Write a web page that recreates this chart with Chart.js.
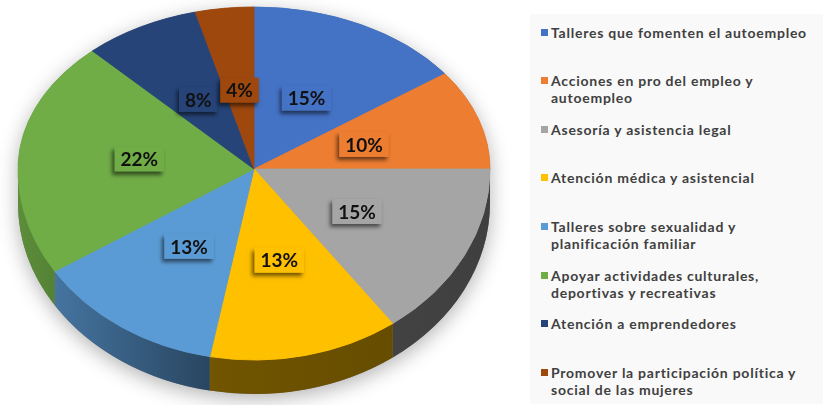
<!DOCTYPE html>
<html>
<head>
<meta charset="utf-8">
<script src="https://cdn.jsdelivr.net/npm/chart.js@4.4.0/dist/chart.umd.min.js"></script>
<style>
	html, body { margin: 0; padding: 0; background: #fff; overflow: hidden; }
	#wrap { position: relative; width: 823px; height: 405px; }
	#pieChart { position: absolute; left: 0; top: 0; }
	#legend {
		position: absolute; left: 530px; top: 14px; width: 293px; height: 390px;
		background: #f9f9f9;
		font-family: Lato, "Noto Sans", sans-serif; font-weight: 700;
		font-size: 14px; letter-spacing: 0.75px; color: #404040;
	}
	.item { position: absolute; left: 21px; line-height: 17px; white-space: nowrap; }
	.item .box { position: absolute; left: -10px; top: 5px; width: 7px; height: 7px; }
</style>
</head>
<body>
<div id="wrap">
	<canvas id="pieChart" width="823" height="405"></canvas>
	<div id="legend"></div>
</div>
<script>
// categories (legend lines) and percentages
const categories = [
	["Talleres que fomenten el autoempleo"],
	["Acciones en pro del empleo y", "autoempleo"],
	["Asesoría y asistencia legal"],
	["Atención médica y asistencial"],
	["Talleres sobre sexualidad y", "planificación familiar"],
	["Apoyar actividades culturales,", "deportivas y recreativas"],
	["Atención a emprendedores"],
	["Promover la participación política y", "social de las mujeres"],
];
const percentages = [15, 10, 15, 13, 13, 22, 8, 4];

const sliceColours = ["#4472c4", "#ed7d31", "#a5a5a5", "#ffc000", "#5b9bd5", "#70ad47", "#264478", "#9e480e"];

// look of the tilted pie
const RY_TOP = 162; // half height of the back part of the top face
const RY_BOT = 191; // half height of the front part
const DEPTH = 34;

function shade(hex, f) {
	const n = parseInt(hex.slice(1), 16);
	const r = Math.round(((n >> 16) & 255) * f);
	const g = Math.round(((n >> 8) & 255) * f);
	const b = Math.round((n & 255) * f);
	return `rgb(${r},${g},${b})`;
}

const pie3d = {
	id: "pie3d",
	beforeDatasetDraw(chart, args) {
		const ctx = chart.ctx;
		const arcs = args.meta.data;
		const cx = arcs[0].x, cy = arcs[0].y, r = arcs[0].outerRadius;

		// soft shadow round the whole pie
		ctx.save();
		ctx.shadowColor = "rgba(0,0,0,0.3)";
		ctx.shadowBlur = 20;
		ctx.shadowOffsetY = 5;
		ctx.fillStyle = "#777";
		ctx.beginPath();
		ctx.ellipse(cx, cy, r, RY_TOP, 0, Math.PI, 2 * Math.PI);
		ctx.ellipse(cx, cy + DEPTH, r, RY_BOT, 0, 0, Math.PI);
		ctx.closePath();
		ctx.fill();
		ctx.restore();

		// side walls (front half only)
		arcs.forEach((arc) => {
			const a0 = Math.max(arc.startAngle, 0);
			const a1 = Math.min(arc.endAngle, Math.PI);
			if (a1 <= a0) return;
			const base = arc.options.backgroundColor;
			const grad = ctx.createLinearGradient(cx - r, 0, cx + r, 0);
			grad.addColorStop(0, shade(base, 0.82));
			grad.addColorStop(0.42, shade(base, 0.44));
			grad.addColorStop(1, shade(base, 0.38));
			ctx.fillStyle = grad;
			ctx.beginPath();
			ctx.ellipse(cx, cy, r, RY_BOT, 0, a0, a1);
			ctx.ellipse(cx, cy + DEPTH, r, RY_BOT, 0, a1, a0, true);
			ctx.closePath();
			ctx.fill();
		});

		// top face: back half and front half with their own squash
		[[RY_TOP / r, 0, cy + 1], [RY_BOT / r, cy, chart.height]].forEach(([k, y0, y1]) => {
			ctx.save();
			ctx.beginPath();
			ctx.rect(0, y0, chart.width, y1 - y0);
			ctx.clip();
			ctx.translate(cx, cy);
			ctx.scale(1, k);
			ctx.translate(-cx, -cy);
			arcs.forEach((a) => a.draw(ctx));
			ctx.restore();
		});

		// percentage labels
		const values = chart.data.datasets[0].data;
		ctx.save();
		ctx.font = "700 19px Lato, 'Noto Sans', sans-serif";
		ctx.textAlign = "center";
		ctx.textBaseline = "middle";
		arcs.forEach((arc, i) => {
			const mid = (arc.startAngle + arc.endAngle) / 2;
			const s = Math.sin(mid);
			const px = cx + 0.49 * r * Math.cos(mid);
			const py = cy + 0.49 * (s < 0 ? RY_TOP : RY_BOT) * s;
			const txt = values[i] + "%";
			const w = ctx.measureText(txt).width + 12;
			const h = 25;
			ctx.save();
			ctx.shadowColor = "rgba(0,0,0,0.55)";
			ctx.shadowBlur = 4;
			ctx.shadowOffsetX = -2;
			ctx.shadowOffsetY = 3;
			ctx.fillStyle = arc.options.backgroundColor;
			ctx.fillRect(px - w / 2, py - h / 2, w, h);
			ctx.restore();
			ctx.fillStyle = "#111";
			ctx.fillText(txt, px, py + 1);
		});
		ctx.restore();
		return false;
	},
};

const chart = new Chart(document.getElementById("pieChart"), {
	type: "pie",
	data: {
		labels: categories,
		datasets: [{
			data: percentages,
			backgroundColor: sliceColours,
			borderColor: sliceColours,
			borderWidth: 1,
			clip: false,
		}],
	},
	options: {
		responsive: false,
		animation: false,
		radius: 236,
		layout: { padding: { left: 0, right: 315, top: 0, bottom: 67 } },
		plugins: { legend: { display: false }, tooltip: { enabled: false } },
	},
	plugins: [pie3d],
});

// legend on the right
const legend = document.getElementById("legend");
categories.forEach((lines, i) => {
	const item = document.createElement("div");
	item.className = "item";
	item.style.top = (9.5 + i * 48.6) + "px";
	item.innerHTML = `<span class="box" style="background:${sliceColours[i]}"></span>` + lines.join("<br>");
	legend.appendChild(item);
});
</script>
</body>
</html>
